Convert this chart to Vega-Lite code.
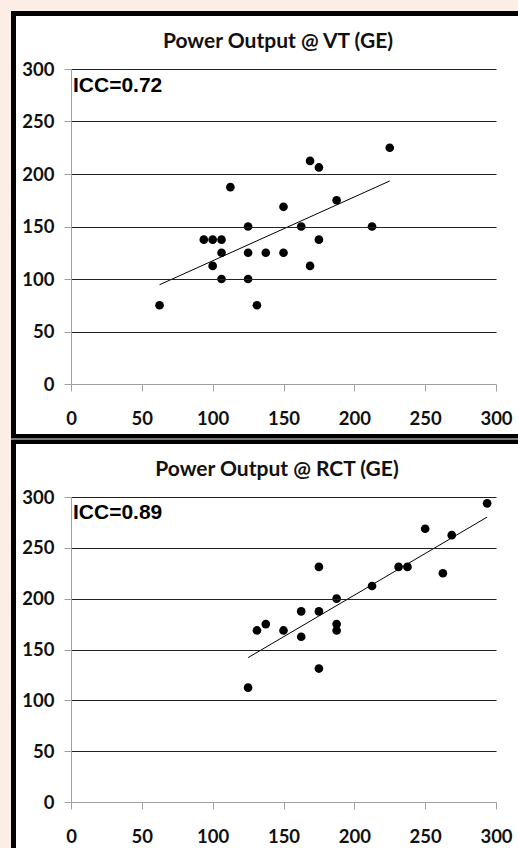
{
  "$schema": "https://vega.github.io/schema/vega-lite/v6.json",
  "background": "#FCEEE6",
  "padding": {"left": 10, "top": 10, "right": 0, "bottom": 0},
  "autosize": {"type": "pad"},
  "spacing": 0,
  "datasets": {
    "vt": [
      {"x": 62.5, "y": 75}, {"x": 93.75, "y": 137.5}, {"x": 100, "y": 137.5}, {"x": 106.25, "y": 137.5},
      {"x": 106.25, "y": 125}, {"x": 100, "y": 112.5}, {"x": 106.25, "y": 100}, {"x": 112.5, "y": 187.5},
      {"x": 125, "y": 150}, {"x": 125, "y": 125}, {"x": 125, "y": 100}, {"x": 131.25, "y": 75},
      {"x": 137.5, "y": 125}, {"x": 150, "y": 125}, {"x": 150, "y": 168.75}, {"x": 162.5, "y": 150},
      {"x": 168.75, "y": 212.5}, {"x": 175, "y": 206.25}, {"x": 175, "y": 137.5}, {"x": 168.75, "y": 112.5},
      {"x": 187.5, "y": 175}, {"x": 212.5, "y": 150}, {"x": 225, "y": 225}
    ],
    "rct": [
      {"x": 125, "y": 112.5}, {"x": 131.25, "y": 168.75}, {"x": 137.5, "y": 175}, {"x": 150, "y": 168.75},
      {"x": 162.5, "y": 187.5}, {"x": 162.5, "y": 162.5}, {"x": 175, "y": 231.25}, {"x": 175, "y": 187.5},
      {"x": 175, "y": 131.25}, {"x": 187.5, "y": 200}, {"x": 187.5, "y": 175}, {"x": 187.5, "y": 168.75},
      {"x": 212.5, "y": 212.5}, {"x": 231.25, "y": 231.25}, {"x": 237.5, "y": 231.25}, {"x": 250, "y": 268.75},
      {"x": 262.5, "y": 225}, {"x": 268.75, "y": 262.5}, {"x": 293.75, "y": 293.75}
    ]
  },
  "vconcat": [
    {
      "width": 425,
      "height": 315,
      "layer": [
        {
          "data": {"values": [{}]},
          "mark": {"type": "rect", "color": "#000"},
          "encoding": {
            "x": {"datum": -42.353, "type": "quantitative"},
            "x2": {"datum": 316.24},
            "y": {"datum": 355.24, "type": "quantitative"},
            "y2": {"datum": -51.905}
          }
        },
        {
          "data": {"values": [{}]},
          "mark": {"type": "rect", "color": "#ffffff"},
          "encoding": {
            "x": {"datum": -38.824, "type": "quantitative"},
            "x2": {"datum": 316.24},
            "y": {"datum": 350.476, "type": "quantitative"},
            "y2": {"datum": -47.619}
          }
        },
        {
          "data": {"name": "vt"},
          "mark": {"type": "circle", "color": "#000", "opacity": 1, "size": 75},
          "encoding": {
            "x": {"field": "x", "type": "quantitative", "scale": {"domain": [0, 300], "nice": false, "zero": false}, "axis": {"title": null, "zindex": 2, "values": [0, 50, 100, 150, 200, 250, 300]}},
            "y": {"field": "y", "type": "quantitative", "scale": {"domain": [0, 300], "nice": false, "zero": false}, "axis": {"title": null, "zindex": 2, "values": [0, 50, 100, 150, 200, 250, 300]}}
          }
        },
        {
          "data": {"name": "vt"},
          "transform": [{"regression": "y", "on": "x"}],
          "mark": {"type": "line", "color": "#000", "strokeWidth": 1},
          "encoding": {
            "x": {"field": "x", "type": "quantitative"},
            "y": {"field": "y", "type": "quantitative"}
          }
        },
        {
          "data": {"values": [{"label": "ICC=0.72"}]},
          "mark": {"type": "text", "font": "Liberation Sans", "fontWeight": "bold", "fontSize": 21, "align": "left", "baseline": "middle", "color": "#000"},
          "encoding": {
            "text": {"field": "label"},
            "x": {"datum": 1.4, "type": "quantitative"},
            "y": {"datum": 283.8, "type": "quantitative"}
          }
        },
        {
          "data": {"values": [{"label": "Power Output @ VT (GE)"}]},
          "mark": {"type": "text", "font": "Lato", "fontWeight": "bold", "fontSize": 21, "align": "center", "baseline": "middle", "color": "#111"},
          "encoding": {
            "text": {"field": "label"},
            "x": {"datum": 146.1, "type": "quantitative"},
            "y": {"datum": 325.7, "type": "quantitative"}
          }
        }
      ]
    },
    {
      "width": 425,
      "height": 305,
      "layer": [
        {
          "data": {"values": [{}]},
          "mark": {"type": "rect", "color": "#000"},
          "encoding": {
            "x": {"datum": -42.353, "type": "quantitative"},
            "x2": {"datum": 316.24},
            "y": {"datum": 356.56, "type": "quantitative"},
            "y2": {"datum": -47.213}
          }
        },
        {
          "data": {"values": [{}]},
          "mark": {"type": "rect", "color": "#ffffff"},
          "encoding": {
            "x": {"datum": -38.824, "type": "quantitative"},
            "x2": {"datum": 316.24},
            "y": {"datum": 352.13, "type": "quantitative"},
            "y2": {"datum": -47.213}
          }
        },
        {
          "data": {"name": "rct"},
          "mark": {"type": "circle", "color": "#000", "opacity": 1, "size": 75},
          "encoding": {
            "x": {"field": "x", "type": "quantitative", "scale": {"domain": [0, 300], "nice": false, "zero": false}, "axis": {"title": null, "zindex": 2, "values": [0, 50, 100, 150, 200, 250, 300]}},
            "y": {"field": "y", "type": "quantitative", "scale": {"domain": [0, 300], "nice": false, "zero": false}, "axis": {"title": null, "zindex": 2, "values": [0, 50, 100, 150, 200, 250, 300]}}
          }
        },
        {
          "data": {"name": "rct"},
          "transform": [{"regression": "y", "on": "x"}],
          "mark": {"type": "line", "color": "#000", "strokeWidth": 1},
          "encoding": {
            "x": {"field": "x", "type": "quantitative"},
            "y": {"field": "y", "type": "quantitative"}
          }
        },
        {
          "data": {"values": [{"label": "ICC=0.89"}]},
          "mark": {"type": "text", "font": "Liberation Sans", "fontWeight": "bold", "fontSize": 21, "align": "left", "baseline": "middle", "color": "#000"},
          "encoding": {
            "text": {"field": "label"},
            "x": {"datum": 1.4, "type": "quantitative"},
            "y": {"datum": 284.6, "type": "quantitative"}
          }
        },
        {
          "data": {"values": [{"label": "Power Output @ RCT (GE)"}]},
          "mark": {"type": "text", "font": "Lato", "fontWeight": "bold", "fontSize": 21, "align": "center", "baseline": "middle", "color": "#111"},
          "encoding": {
            "text": {"field": "label"},
            "x": {"datum": 145.4, "type": "quantitative"},
            "y": {"datum": 326.6, "type": "quantitative"}
          }
        }
      ]
    }
  ],
  "config": {
    "view": {"stroke": null},
    "axis": {
      "labelFont": "Lato",
      "labelFontSize": 18.5,
      "labelFontWeight": "bold",
      "labelColor": "#111",
      "domainColor": "#A0A0A0",
      "domainWidth": 1,
      "tickColor": "#A0A0A0",
      "tickWidth": 1,
      "labelOverlap": false,
      "labelFlush": false
    },
    "axisX": {"grid": false, "tickSize": 7, "labelBaseline": "middle", "labelPadding": 27},
    "axisY": {
      "grid": true,
      "gridColor": {"condition": {"test": "datum.value === 0", "value": "transparent"}, "value": "#222222"},
      "gridWidth": 1,
      "tickSize": 7,
      "labelPadding": 10,
      "labelBaseline": "middle"
    }
  }
}
